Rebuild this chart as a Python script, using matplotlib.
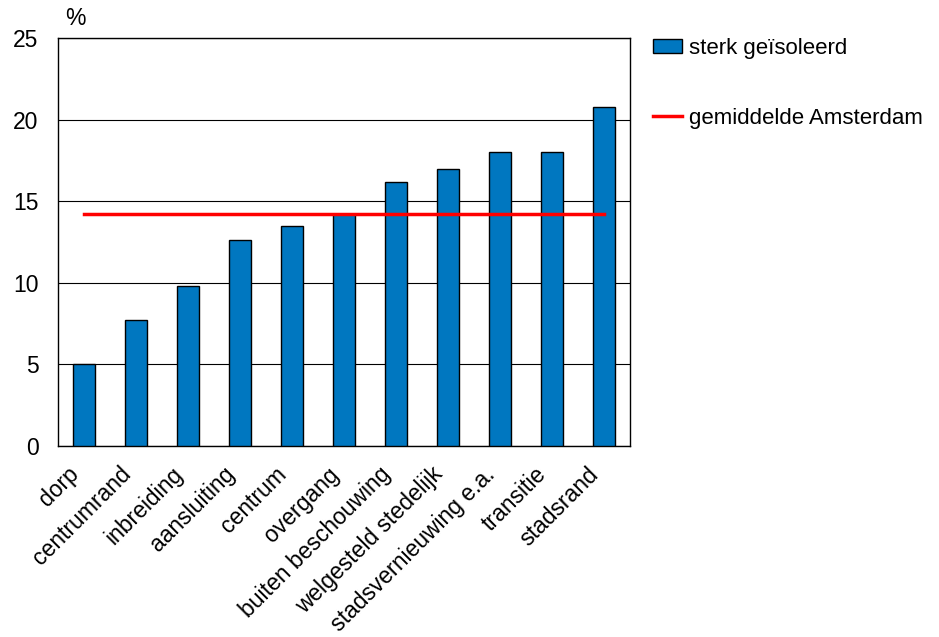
import numpy as np
import matplotlib.pyplot as plt
from matplotlib.transforms import ScaledTranslation

plt.rcParams['font.family'] = ['Liberation Sans', 'DejaVu Sans']

wijken = ['dorp', 'centrumrand', 'inbreiding', 'aansluiting', 'centrum', 'overgang',
          'buiten beschouwing', 'welgesteld stedelijk', 'stadsvernieuwing e.a.',
          'transitie', 'stadsrand']
geisoleerd = [5.0, 7.7, 9.8, 12.6, 13.5, 14.2, 16.2, 17.0, 18.0, 18.0, 20.8]
gemiddelde = 14.2

fig = plt.figure(figsize=(9.39, 6.37), dpi=100)
ax = fig.add_axes([58/939, 1-446/637, 572/939, 408/637])

x = np.arange(len(wijken))
bars = ax.bar(x, geisoleerd, width=0.42, color='#0077c0', edgecolor='black', linewidth=1,
              label='sterk geïsoleerd', zorder=3)
line, = ax.plot(x, [gemiddelde]*len(x), color='#ff0000', linewidth=2.5,
                label='gemiddelde Amsterdam', zorder=4)

ax.set_xlim(-0.5, len(wijken)-0.5)
ax.set_ylim(0, 25)
ax.set_yticks([0, 5, 10, 15, 20, 25])
ax.yaxis.grid(True, color='black', linewidth=0.8, zorder=0)
ax.tick_params(axis='y', length=0, labelsize=16.5, pad=14)
ax.tick_params(axis='x', length=0, labelsize=16.5, pad=12)
ax.set_xticks(x)
ax.set_xticklabels(wijken, rotation=45, ha='right', va='top', rotation_mode='anchor')
shift = ScaledTranslation(-17/100, 0, fig.dpi_scale_trans)
for lab in ax.get_xticklabels():
    lab.set_transform(lab.get_transform() + shift)
for s in ax.spines.values():
    s.set_linewidth(1)
ax.text(0.012, 1.02, '%', transform=ax.transAxes, fontsize=16.5, ha='left', va='bottom')

fig.legend([bars, line], ['sterk geïsoleerd', 'gemiddelde Amsterdam'],
           loc='upper left', bbox_to_anchor=(653/939, 1-38/637), frameon=False,
           fontsize=16, labelspacing=2.2, handlelength=1.3, handleheight=0.6,
           handletextpad=0.3, borderaxespad=0, borderpad=0)

fig.savefig('out.png', dpi=100)
